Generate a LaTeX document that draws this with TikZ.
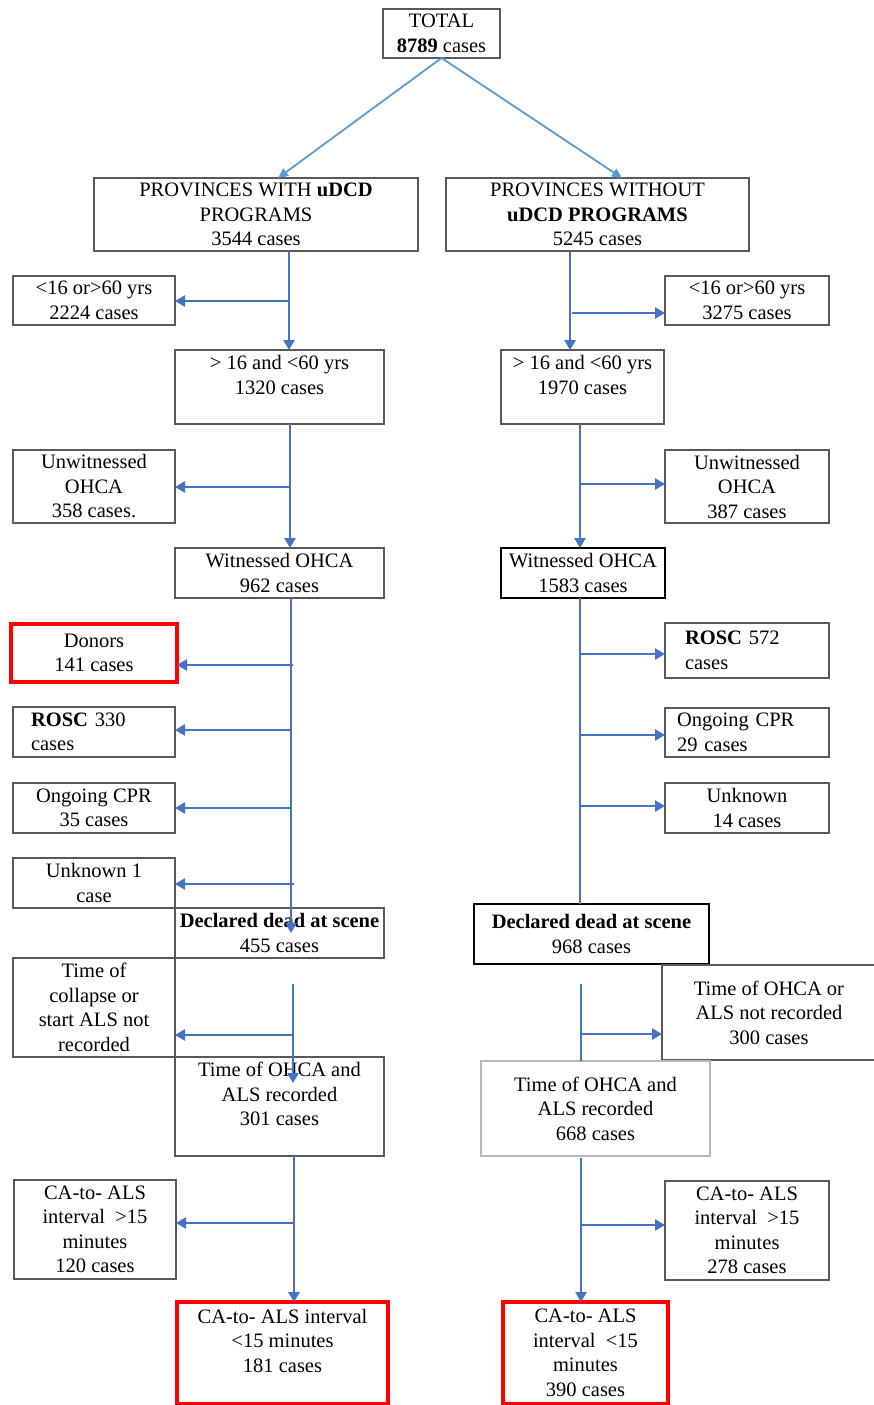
\documentclass[tikz,border=0pt]{standalone}
\usepackage{fontspec}
\setmainfont{Liberation Serif}
\usetikzlibrary{arrows.meta}
\definecolor{arrblue}{HTML}{4472C4}
\definecolor{topblue}{HTML}{5B9BD5}
\definecolor{boxgray}{HTML}{595959}
\newcommand\mybox[7]{\node[#6, minimum width={(#4)-(#2)}, minimum height={(#5)-(#3)}] (#1) at ({((#2)+(#4))/2},{-((#3)+(#5))/2}) {#7};}
\tikzset{
  box/.style={draw=boxgray, line width=1.4pt, inner sep=1pt, outer sep=0pt, align=center, font=\fontsize{20.5}{24.5}\selectfont},
  dbox/.style={box, draw=black, line width=2.2pt},
  lbox/.style={box, draw=gray!55},
  rbox/.style={box, draw=red, line width=4pt},
  arr/.style={draw=arrblue, line width=2.8pt, -{Triangle[length=10pt,width=11pt]}},
  ln/.style={draw=arrblue, line width=2.8pt},
  tarr/.style={draw=topblue, line width=1.8pt, -{Triangle[length=10pt,width=9pt]}}
}
\begin{document}
\begin{tikzpicture}[x=1pt,y=1pt]
\useasboundingbox (0,0) rectangle (873,-1405);
% top
\mybox{T}{383}{9}{500}{58}{box}{TOTAL\\\textbf{8789} cases}
\mybox{PL}{94}{178}{418}{251}{box}{PROVINCES WITH \textbf{uDCD}\\PROGRAMS\\3544 cases}
\mybox{PR}{446}{178}{749}{251}{box}{PROVINCES WITHOUT\\\textbf{uDCD PROGRAMS}\\5245 cases}
% left column
\mybox{L1}{13}{276}{175}{325}{box}{<16 or>60 yrs\\2224 cases}
\mybox{L2}{175}{350}{384}{424}{box}{> 16 and <60 yrs\\1320 cases\\\mbox{}}
\mybox{L3}{13}{450}{175}{523}{box}{Unwitnessed\\OHCA\\358 cases.}
\mybox{L4}{175}{548}{384}{598}{box}{Witnessed OHCA\\962 cases}
\mybox{L5}{11}{624}{177}{682}{rbox}{Donors\\141 cases}
\mybox{L6}{13}{707}{175}{757}{box, text width=126pt, align=left}{\textbf{ROSC} 330\\cases}
\mybox{L7}{13}{783}{175}{833}{box}{Ongoing CPR\\35 cases}
\mybox{L8}{13}{858}{175}{908}{box}{Unknown 1\\case}
\mybox{L9}{175}{908}{384}{958}{box}{\textbf{Declared dead at scene}\\455 cases}
\mybox{L10}{13}{958}{175}{1057}{box}{Time of\\collapse or\\start ALS not\\recorded}
\mybox{L11}{175}{1057}{384}{1156}{box}{Time of OHCA and\\ALS recorded\\301 cases\\\mbox{}}
\mybox{L12}{14}{1180}{176}{1279}{box}{CA-to- ALS\\interval~ >15\\minutes\\120 cases}
\mybox{L13}{177}{1302}{388}{1404}{rbox}{CA-to- ALS interval\\<15 minutes\\181 cases\\\mbox{}}
% right column
\mybox{R1}{665}{276}{829}{325}{box}{<16 or>60 yrs\\3275 cases}
\mybox{R2}{501}{350}{664}{424}{box}{> 16 and <60 yrs\\1970 cases\\\mbox{}}
\mybox{R3}{665}{450}{829}{523}{box}{Unwitnessed\\OHCA\\387 cases}
\mybox{R4}{501}{548}{665}{598}{dbox}{Witnessed OHCA\\1583 cases}
\mybox{R5}{665}{623}{829}{678}{box, text width=124pt, align=left}{\textbf{ROSC} 572\\cases}
\mybox{R6}{665}{708}{829}{757}{box, text width=140pt, align=left}{Ongoing CPR\\29 cases}
\mybox{R7}{665}{783}{829}{833}{box}{Unknown\\14 cases}
\mybox{R8}{474}{904}{709}{964}{dbox}{\textbf{Declared dead at scene}\\968 cases}
\mybox{R9}{662}{965}{876}{1060}{box}{Time of OHCA or\\ALS not recorded\\300 cases}
\mybox{R10}{481}{1061}{710}{1156}{lbox}{Time of OHCA and\\ALS recorded\\668 cases}
\mybox{R11}{665}{1181}{829}{1280}{box}{CA-to- ALS\\interval~ >15\\minutes\\278 cases}
\mybox{R12}{503}{1302}{668}{1404}{rbox}{CA-to- ALS\\interval~ <15\\minutes\\390 cases}
% top connectors
\coordinate (pla) at (278,-178);
\coordinate (pra) at (622,-178);
\draw[tarr] (T.south) -- (pla);
\draw[tarr] (T.south) -- (pra);
% left trunk coordinates
\coordinate (a1) at (289,-251);
\coordinate (a2) at (290,-424);
\coordinate (a3) at (291,-598);
\coordinate (a3e) at (291,-933);
\coordinate (a4) at (293,-984);
\coordinate (a4e) at (293,-1083);
\coordinate (a5) at (294,-1156);
\draw[arr] (a1) -- (a1 |- L2.north);
\draw[arr] (a2) -- (a2 |- L4.north);
\draw[arr] (a3) -- (a3e);
\draw[arr] (a4) -- (a4e);
\draw[arr] (a5) -- (a5 |- L13.north);
% left branches
\coordinate (b1) at (289,-301);
\coordinate (b3) at (290,-487);
\coordinate (b5) at (293,-665);
\coordinate (b6) at (291,-730);
\coordinate (b7) at (292,-808);
\coordinate (b8) at (294,-884);
\coordinate (b10) at (293,-1035);
\coordinate (b12) at (294,-1223);
\draw[arr] (b1) -- (b1 -| L1.east);
\draw[arr] (b3) -- (b3 -| L3.east);
\draw[arr] (b5) -- (b5 -| L5.east);
\draw[arr] (b6) -- (b6 -| L6.east);
\draw[arr] (b7) -- (b7 -| L7.east);
\draw[arr] (b8) -- (b8 -| L8.east);
\draw[arr] (b10) -- (b10 -| L10.east);
\draw[arr] (b12) -- (b12 -| L12.east);
% right trunk
\coordinate (c1) at (570,-251);
\coordinate (c2) at (580,-424);
\coordinate (c3) at (580,-598);
\coordinate (c4) at (581,-984);
\coordinate (c5) at (581,-1158);
\draw[arr] (c1) -- (c1 |- R2.north);
\draw[arr] (c2) -- (c2 |- R4.north);
\draw[ln] (c3) -- (c3 |- R8.north);
\draw[ln] (c4) -- (c4 |- R10.north);
\draw[arr] (c5) -- (c5 |- R12.north);
% right branches
\coordinate (d1) at (572,-313);
\coordinate (d3) at (580,-484);
\coordinate (d5) at (580,-654);
\coordinate (d6) at (580,-735);
\coordinate (d7) at (580,-806);
\coordinate (d9) at (581,-1034);
\coordinate (d11) at (581,-1225);
\draw[arr] (d1) -- (d1 -| R1.west);
\draw[arr] (d3) -- (d3 -| R3.west);
\draw[arr] (d5) -- (d5 -| R5.west);
\draw[arr] (d6) -- (d6 -| R6.west);
\draw[arr] (d7) -- (d7 -| R7.west);
\draw[arr] (d9) -- (d9 -| R9.west);
\draw[arr] (d11) -- (d11 -| R11.west);
\end{tikzpicture}
\end{document}
